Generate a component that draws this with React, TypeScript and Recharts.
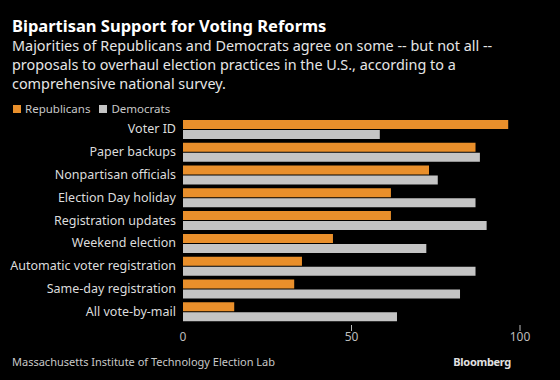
import { BarChart, Bar, XAxis, YAxis } from 'recharts';

const categories = [
  'Voter ID',
  'Paper backups',
  'Nonpartisan officials',
  'Election Day holiday',
  'Registration updates',
  'Weekend election',
  'Automatic voter registration',
  'Same-day registration',
  'All vote-by-mail',
];
const republicans = [96.5, 86.8, 73, 61.7, 61.7, 44.5, 35.3, 33, 15.2];
const democrats = [58.4, 88.1, 75.6, 86.8, 90.1, 72.2, 86.8, 82.2, 63.5];
const xTicks = [0, 50, 100];

const ORANGE = '#e98f2b';
const GRAY = '#c4c4c4';
const FONT = '"Noto Sans", sans-serif';

document.body.style.margin = '0';

const data = categories.map((name, i) => ({
  name,
  Republicans: republicans[i],
  Democrats: democrats[i],
}));

function XTick(props: any) {
  const { x, y, payload } = props;
  return (
    <g>
      {payload.value !== 0 && (
        <line x1={x} x2={x} y1={y - 6} y2={y} stroke="#bbb" strokeWidth={1} />
      )}
      <text x={x} y={y + 10} textAnchor="middle" fill="#bdbdbd" fontSize={12} fontFamily={FONT}>
        {payload.value}
      </text>
    </g>
  );
}

function YTick(props: any) {
  const { y, payload } = props;
  return (
    <text x={176} y={y} dy={4} textAnchor="end" fill="#dcdcdc" fontSize={12.5} fontFamily={FONT}>
      {payload.value}
    </text>
  );
}

export default function App() {
  return (
    <div style={{ position: 'relative', width: 560, height: 380, background: '#000', overflow: 'hidden', fontFamily: FONT }}>
      <div style={{ position: 'absolute', left: 12, top: 16, color: '#fff', fontSize: 16.5, fontWeight: 700, lineHeight: '20px' }}>
        Bipartisan Support for Voting Reforms
      </div>
      <div style={{ position: 'absolute', left: 12, top: 36, width: 535, color: '#e6e6e6', fontSize: 14.4, lineHeight: '19px' }}>
        Majorities of Republicans and Democrats agree on some -- but not all -- proposals to overhaul election practices in the U.S., according to a comprehensive national survey.
      </div>
      <div style={{ position: 'absolute', left: 13, top: 101, display: 'flex', gap: 9, color: '#c8c8c8', fontSize: 11.5, lineHeight: '16px', alignItems: 'center' }}>
        <span style={{ display: 'flex', alignItems: 'center', gap: 4 }}>
          <span style={{ width: 8, height: 8, background: ORANGE, display: 'inline-block' }} />Republicans
        </span>
        <span style={{ display: 'flex', alignItems: 'center', gap: 4 }}>
          <span style={{ width: 8, height: 8, background: GRAY, display: 'inline-block' }} />Democrats
        </span>
      </div>
      <div style={{ position: 'absolute', top: 0, left: 0 }}>
        <BarChart
          width={560}
          height={380}
          data={data}
          layout="vertical"
          margin={{ top: 118, right: 40, bottom: 34, left: 0 }}
          barGap={1}
          barSize={9}
        >
          <XAxis
            type="number"
            domain={[0, 100]}
            ticks={xTicks}
            axisLine={false}
            tickLine={false}
            tick={<XTick />}
            height={23}
            interval={0}
          />
          <YAxis
            type="category"
            dataKey="name"
            width={183}
            axisLine={false}
            tickLine={false}
            tick={<YTick />}
            interval={0}
          />
          <Bar dataKey="Republicans" fill={ORANGE} isAnimationActive={false} />
          <Bar dataKey="Democrats" fill={GRAY} isAnimationActive={false} />
        </BarChart>
      </div>
      <div style={{ position: 'absolute', left: 12, top: 354, color: '#c8c8c8', fontSize: 11, lineHeight: '16px' }}>
        Massachusetts Institute of Technology Election Lab
      </div>
      <div style={{ position: 'absolute', right: 49, top: 354, color: '#e0e0e0', fontSize: 11, fontWeight: 700, letterSpacing: -0.3, lineHeight: '16px' }}>
        Bloomberg
      </div>
    </div>
  );
}
